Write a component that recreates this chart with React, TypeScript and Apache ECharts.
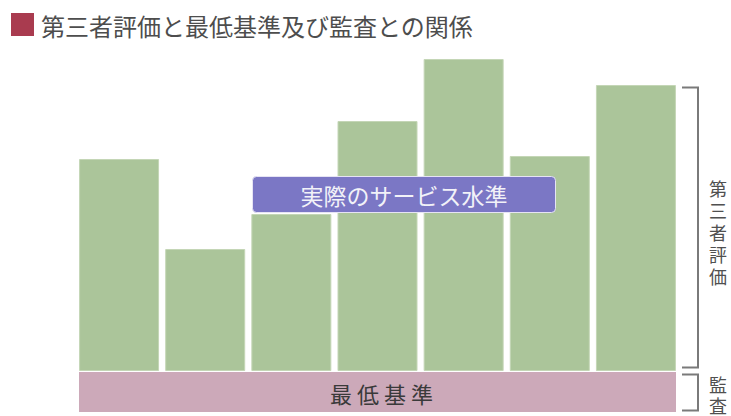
import React, { useEffect, useRef } from "react";
import * as echarts from "echarts";

const categories = ["A", "B", "C", "D", "E", "F", "G"];
const serviceLevels = [212, 122, 157, 250, 312, 215, 286];
const baseCategory = ["最低基準"];
const baseValues = [1];
const titleText = "第三者評価と最低基準及び監査との関係";
const boxText = "実際のサービス水準";
const evalText = "第三者評価";
const auditText = "監査";

const FONT = '"Noto Sans CJK JP", "Noto Sans", sans-serif';

export default function App() {
  const ref = useRef<HTMLDivElement>(null);
  useEffect(() => {
    if (!ref.current) return;
    const chart = echarts.init(ref.current, null, { renderer: "svg" });
    const vertChars = (s: string, x: number, firstCenterY: number, pitch: number) =>
      s.split("").map((ch, i) => ({
        type: "text",
        z: 100,
        x,
        y: firstCenterY + i * pitch,
        style: {
          text: ch,
          font: `18px ${FONT}`,
          fill: "#505050",
          textAlign: "center",
          textVerticalAlign: "middle",
        },
      }));
    chart.setOption({
      animation: false,
      backgroundColor: "#ffffff",
      textStyle: { fontFamily: FONT },
      grid: [
        { left: 76, right: 52, top: 59, bottom: 45 },
        { left: 79, right: 55, top: 372, bottom: 4 },
      ],
      xAxis: [
        { type: "category", gridIndex: 0, data: categories, show: false },
        { type: "category", gridIndex: 1, data: baseCategory, show: false },
      ],
      yAxis: [
        { type: "value", gridIndex: 0, min: 0, max: 312, show: false },
        { type: "value", gridIndex: 1, min: 0, max: 1, show: false },
      ],
      series: [
        {
          type: "bar",
          xAxisIndex: 0,
          yAxisIndex: 0,
          data: serviceLevels,
          barWidth: 80,
          itemStyle: { color: "#abc59a", borderColor: "#c4d6b6", borderWidth: 1 },
        },
        {
          type: "bar",
          xAxisIndex: 1,
          yAxisIndex: 1,
          data: baseValues,
          barWidth: "100%",
          itemStyle: { color: "#cca9b9" },
          label: {
            show: true,
            position: "inside",
            formatter: "最 低 基 準",
            fontFamily: FONT,
            fontSize: 22,
            color: "#3a3a3a",
            offset: [4, 1],
          },
        },
      ],
      graphic: [
        {
          type: "rect",
          z: 100,
          shape: { x: 11, y: 13, width: 23, height: 23 },
          style: { fill: "#a93b4f" },
        },
        {
          type: "text",
          z: 100,
          x: 41,
          y: 25,
          style: {
            text: titleText,
            font: `24px ${FONT}`,
            fill: "#4d4d4d",
            textVerticalAlign: "middle",
          },
        },
        {
          type: "rect",
          z: 100,
          shape: { x: 252.5, y: 176.5, width: 303, height: 36, r: 4 },
          style: { fill: "#7b77c5", stroke: "#e6e4f4", lineWidth: 1 },
        },
        {
          type: "text",
          z: 101,
          x: 404,
          y: 195,
          style: {
            text: boxText,
            font: `23px ${FONT}`,
            fill: "#f2f2f8",
            textAlign: "center",
            textVerticalAlign: "middle",
          },
        },
        {
          type: "polyline",
          z: 100,
          shape: { points: [[682, 87.5], [698, 87.5], [698, 367.5], [682, 367.5]] },
          style: { stroke: "#7a7a7a", lineWidth: 2, fill: "none" },
        },
        {
          type: "polyline",
          z: 100,
          shape: { points: [[682, 374.5], [698, 374.5], [698, 410.5], [682, 410.5]] },
          style: { stroke: "#7a7a7a", lineWidth: 2, fill: "none" },
        },
        ...vertChars(evalText, 718, 188, 22),
        ...vertChars(auditText, 718, 384, 21),
      ],
    });
    return () => chart.dispose();
  }, []);
  return (
    <div
      ref={ref}
      style={{ position: "fixed", left: 0, top: 0, width: 731, height: 416 }}
    />
  );
}
